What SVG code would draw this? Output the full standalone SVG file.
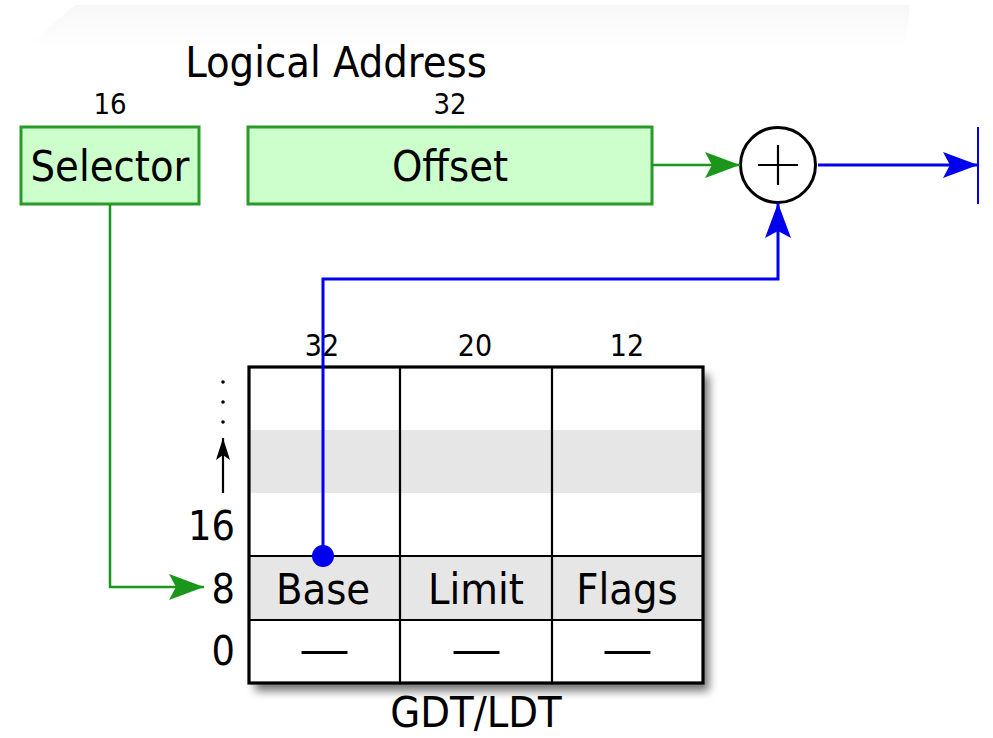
<svg xmlns="http://www.w3.org/2000/svg" width="993" height="738" viewBox="0 0 993 738">
<style>
text{font-family:"DejaVu Sans Condensed","DejaVu Sans","Liberation Sans",sans-serif;font-stretch:condensed;fill:#000}
.big{font-size:43px}
.num{font-size:29px}
.tn{font-size:30px}
.ax{font-size:41px}
.box{fill:#ccffcc;stroke:#2a9a2a;stroke-width:3}
.g{fill:none;stroke:#1a961a;stroke-width:2.5}
.b{fill:none;stroke:#0000ee;stroke-width:3}
.grid{stroke:#000;stroke-width:2.2;fill:none}
</style>
<defs>
<linearGradient id="bg" x1="0" y1="0" x2="0" y2="1">
<stop offset="0" stop-color="#f2f2f2"/>
<stop offset="1" stop-color="#ffffff"/>
</linearGradient>
<filter id="sh" x="-10%" y="-10%" width="130%" height="130%">
<feGaussianBlur stdDeviation="5"/>
</filter>
<marker id="ag" markerUnits="userSpaceOnUse" viewBox="0 -14 36 28" refX="35" refY="0" markerWidth="36" markerHeight="28" orient="auto">
<path d="M0,-13 L35,0 L0,13 L7,0 Z" fill="#1a961a"/>
</marker>
<marker id="ab" markerUnits="userSpaceOnUse" viewBox="0 -14 36 28" refX="35" refY="0" markerWidth="36" markerHeight="28" orient="auto">
<path d="M0,-13 L35,0 L0,13 L7,0 Z" fill="#0000ee"/>
</marker>
<marker id="ak" markerUnits="userSpaceOnUse" viewBox="0 -8 24 16" refX="22" refY="0" markerWidth="24" markerHeight="16" orient="auto">
<path d="M0,-7 L22,0 L0,7 L5,0 Z" fill="#000"/>
</marker>
</defs>
<rect width="993" height="738" fill="#fff"/>
<polygon points="75,5 910,5 905,48 25,48" fill="url(#bg)" opacity="0.6"/>

<text class="big" x="336" y="77" text-anchor="middle">Logical Address</text>

<g id="selector">
<text class="num" x="110" y="114" text-anchor="middle">16</text>
<rect class="box" x="21" y="127" width="178" height="77"/>
<text class="big" x="110" y="181" text-anchor="middle">Selector</text>
</g>

<g id="offset">
<text class="num" x="450" y="114" text-anchor="middle">32</text>
<rect class="box" x="248" y="127" width="404" height="77"/>
<text class="big" x="450" y="181" text-anchor="middle">Offset</text>
</g>

<g id="adder">
<circle cx="778" cy="165" r="37.5" fill="#fff" stroke="#000" stroke-width="3"/>
<path d="M758,165 H798 M778,145 V185" stroke="#000" stroke-width="2.2"/>
</g>

<g id="output">
<line x1="978" y1="127" x2="978" y2="204" stroke="#0000ee" stroke-width="2"/>
</g>

<g id="table">
<rect x="255" y="375" width="454" height="316" fill="#000" opacity="0.55" filter="url(#sh)"/>
<rect x="249" y="367" width="454" height="316" fill="#fff"/>
<rect x="249" y="430" width="454" height="63" fill="#e6e6e6"/>
<rect x="249" y="556" width="454" height="64" fill="#e6e6e6"/>
<path class="grid" d="M400,367 V683 M552,367 V683 M249,556 H703 M249,620 H703"/>
<rect x="249" y="367" width="454" height="316" fill="none" stroke="#000" stroke-width="3.2"/>
<text class="tn" x="322" y="356" text-anchor="middle">32</text>
<text class="tn" x="475" y="356" text-anchor="middle">20</text>
<text class="tn" x="627" y="356" text-anchor="middle">12</text>
<text class="big" x="323" y="604" text-anchor="middle">Base</text>
<text class="big" x="476" y="604" text-anchor="middle">Limit</text>
<text class="big" x="627" y="604" text-anchor="middle">Flags</text>
<text class="big" x="299" y="664" textLength="51" lengthAdjust="spacingAndGlyphs">—</text>
<text class="big" x="451" y="664" textLength="51" lengthAdjust="spacingAndGlyphs">—</text>
<text class="big" x="602" y="664" textLength="51" lengthAdjust="spacingAndGlyphs">—</text>
<text class="big" x="476" y="727" text-anchor="middle">GDT/LDT</text>
</g>

<g id="axis">
<circle cx="223" cy="382" r="1.8" fill="#000"/>
<circle cx="223" cy="402" r="1.8" fill="#000"/>
<circle cx="223" cy="422" r="1.8" fill="#000"/>
<line x1="223" y1="493" x2="223" y2="438" stroke="#000" stroke-width="2.2" marker-end="url(#ak)"/>
<text class="ax" x="235" y="540" text-anchor="end">16</text>
<text class="ax" x="235" y="603" text-anchor="end">8</text>
<text class="ax" x="235" y="665" text-anchor="end">0</text>
</g>

<g id="connectors">
<path class="g" d="M110,204 V587 H204" marker-end="url(#ag)"/>
<path class="g" d="M652,165 H740" marker-end="url(#ag)"/>
<path class="b" d="M818,165 H978" marker-end="url(#ab)"/>
<path class="b" d="M323,556 V279 H778 V203" marker-end="url(#ab)"/>
<circle cx="323" cy="556" r="11" fill="#0000ee"/>
</g>
</svg>
